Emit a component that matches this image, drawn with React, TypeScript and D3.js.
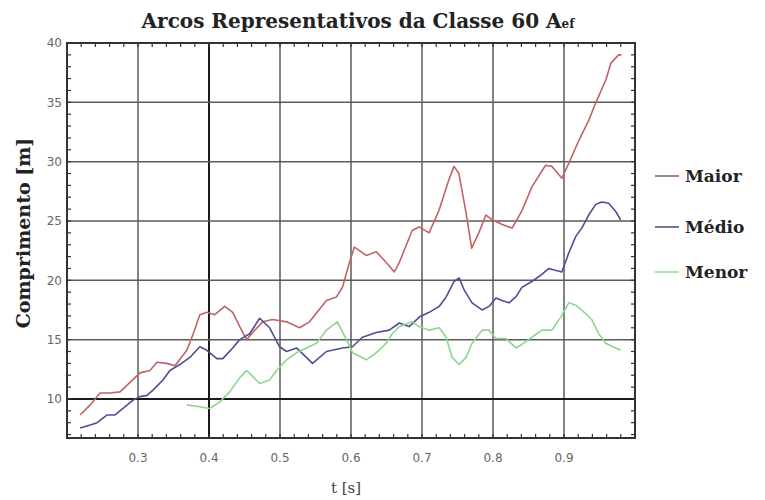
import React from "react";
import * as d3 from "d3";

const maiorT = [0.2185,0.2326,0.2466,0.2607,0.2747,0.2888,0.3028,0.3169,0.3267,0.3407,0.3520,0.3688,0.3772,0.3871,0.3969,0.4081,0.4222,0.4334,0.4433,0.4531,0.4615,0.4756,0.4896,0.5093,0.5275,0.5416,0.5654,0.5795,0.5879,0.5978,0.6048,0.6216,0.6357,0.6497,0.6610,0.6680,0.6862,0.6960,0.7100,0.7240,0.7380,0.7450,0.7520,0.7620,0.7700,0.7800,0.7900,0.7990,0.8130,0.8270,0.8410,0.8550,0.8740,0.8830,0.8970,0.9070,0.9210,0.9350,0.9450,0.9590,0.9660,0.9770,0.9810];
const maiorV = [8.65,9.5,10.5,10.5,10.6,11.4,12.2,12.4,13.1,13.0,12.8,14.1,15.4,17.1,17.3,17.1,17.8,17.3,16.1,15.0,15.6,16.5,16.7,16.5,16.0,16.5,18.3,18.6,19.4,21.5,22.8,22.1,22.4,21.5,20.7,21.5,24.2,24.5,24.0,25.9,28.5,29.6,29.0,25.7,22.7,24.0,25.5,25.1,24.7,24.4,25.9,27.9,29.7,29.6,28.6,29.9,31.8,33.5,35.0,36.9,38.3,39.0,39.0];

const medioT = [0.2185,0.2326,0.2424,0.2565,0.2677,0.2789,0.2930,0.3028,0.3126,0.3211,0.3351,0.3449,0.3590,0.3730,0.3871,0.3969,0.4110,0.4194,0.4334,0.4433,0.4573,0.4713,0.4854,0.4994,0.5093,0.5233,0.5458,0.5654,0.5879,0.6020,0.6160,0.6357,0.6539,0.6680,0.6820,0.6961,0.7101,0.7242,0.7340,0.7452,0.7522,0.7593,0.7705,0.7846,0.7944,0.8042,0.8126,0.8225,0.8323,0.8407,0.8548,0.8688,0.8787,0.8969,0.9067,0.9166,0.9250,0.9348,0.9447,0.9531,0.9629,0.9728,0.9798];
const medioV = [7.55,7.8,8.0,8.65,8.65,9.2,9.9,10.2,10.3,10.75,11.6,12.4,12.9,13.5,14.4,14.1,13.4,13.4,14.3,15.0,15.5,16.8,16.0,14.4,14.0,14.3,13.0,14.0,14.3,14.4,15.2,15.6,15.8,16.4,16.1,16.9,17.3,17.8,18.6,19.9,20.2,19.2,18.1,17.5,17.8,18.5,18.3,18.1,18.6,19.4,19.9,20.5,21.0,20.7,22.3,23.7,24.4,25.5,26.4,26.6,26.5,25.8,25.1];

const menorT = [0.3688,0.3871,0.4011,0.4152,0.4292,0.4433,0.4531,0.4615,0.4713,0.4854,0.4952,0.5093,0.5233,0.5374,0.5514,0.5654,0.5809,0.5935,0.6020,0.6216,0.6357,0.6497,0.6581,0.6680,0.6862,0.6961,0.7101,0.7242,0.7340,0.7424,0.7522,0.7621,0.7705,0.7846,0.7944,0.8042,0.8183,0.8323,0.8407,0.8548,0.8688,0.8829,0.8955,0.9067,0.9166,0.9306,0.9390,0.9489,0.9587,0.9728,0.9798];
const menorV = [9.5,9.35,9.2,9.75,10.6,11.8,12.4,11.9,11.3,11.6,12.4,13.3,13.9,14.3,14.7,15.8,16.5,15.0,13.9,13.3,13.9,14.7,15.5,16.1,16.5,16.1,15.8,16.0,15.2,13.5,12.9,13.5,14.7,15.8,15.8,15.1,15.1,14.3,14.6,15.2,15.8,15.8,16.9,18.1,17.9,17.2,16.7,15.5,14.7,14.3,14.1];

const seriesNames = ["Maior", "Médio", "Menor"];
const xTicks = [0.3, 0.4, 0.5, 0.6, 0.7, 0.8, 0.9];
const yTicks = [10, 15, 20, 25, 30, 35, 40];

const colors = ["#bf6464", "#4e4e94", "#8fd48f"];
const swatchColors = ["#8a6a6a", "#55556e", "#9ed89e"];

export default function App() {
  const W = 765, H = 500;
  const L = 67, R = 635, T = 43, B = 438;
  const x = d3.scaleLinear().domain([0.2, 1.0]).range([L, R]);
  const y = d3.scaleLinear().domain([6.71, 40]).range([B, T]);
  const line = d3.line<[number, number]>().x(d => x(d[0])).y(d => y(d[1]));
  const series = [
    d3.zip(maiorT, maiorV) as [number, number][],
    d3.zip(medioT, medioV) as [number, number][],
    d3.zip(menorT, menorV) as [number, number][],
  ];
  const minorX = d3.range(0.2, 1.0001, 0.02).map(v => +v.toFixed(2));
  const minorY = d3.range(7, 40.001, 1);
  const serif = "'DejaVu Serif', serif";
  const sans = "'DejaVu Sans', sans-serif";
  return (
    <svg width={W} height={H} style={{ position: "absolute", left: 0, top: 0, background: "#fff" }}>
      <rect x={0} y={0} width={W} height={H} fill="#fff" />
      {/* grid */}
      {xTicks.map(t => (
        <line key={"gx" + t} x1={x(t)} x2={x(t)} y1={T} y2={B}
          stroke={t === 0.4 ? "#1a1a1a" : "#5a5a5a"} strokeWidth={t === 0.4 ? 2 : 1.5} />
      ))}
      {yTicks.map(t => (
        <line key={"gy" + t} x1={L} x2={R} y1={y(t)} y2={y(t)}
          stroke={t === 10 ? "#1a1a1a" : "#5a5a5a"} strokeWidth={t === 10 ? 2 : 1.5} />
      ))}
      {/* minor ticks */}
      {minorX.map(t => (
        <g key={"mx" + t}>
          <line x1={x(t)} x2={x(t)} y1={B} y2={B - 4} stroke="#333" strokeWidth={1.2} />
          <line x1={x(t)} x2={x(t)} y1={T} y2={T + 4} stroke="#333" strokeWidth={1.2} />
        </g>
      ))}
      {minorY.map(t => (
        <g key={"my" + t}>
          <line x1={L} x2={L + 4} y1={y(t)} y2={y(t)} stroke="#333" strokeWidth={1.2} />
          <line x1={R} x2={R - 4} y1={y(t)} y2={y(t)} stroke="#333" strokeWidth={1.2} />
        </g>
      ))}
      {/* series */}
      {series.map((s, i) => (
        <path key={"s" + i} d={line(s) || ""} fill="none" stroke={colors[i]} strokeWidth={1.6} strokeLinejoin="round" />
      ))}
      {/* frame */}
      <rect x={L} y={T} width={R - L} height={B - T} fill="none" stroke="#333" strokeWidth={2} />
      {/* tick labels */}
      {xTicks.map(t => (
        <text key={"xl" + t} x={x(t)} y={462} textAnchor="middle" fontFamily={sans} fontSize={12} fill="#666">{t.toFixed(1)}</text>
      ))}
      {yTicks.map(t => (
        <text key={"yl" + t} x={62} y={y(t)} dy="0.35em" textAnchor="end" fontFamily={sans} fontSize={12} fill="#666">{t}</text>
      ))}
      {/* title */}
      <text x={358} y={28} textAnchor="middle" fontFamily={serif} fontWeight="bold" fontSize={20} fill="#222">
        Arcos Representativos da Classe 60 A<tspan fontSize={12}>ef</tspan>
      </text>
      {/* axis labels */}
      <text x={346} y={493} textAnchor="middle" fontFamily={serif} fontSize={15} fill="#444">t [s]</text>
      <text transform="translate(30,233) rotate(-90)" textAnchor="middle" fontFamily={serif} fontWeight="bold" fontSize={19} fill="#222">Comprimento [m]</text>
      {/* legend */}
      {seriesNames.map((n, i) => {
        const ly = [176, 227, 272][i];
        return (
          <g key={"lg" + i}>
            <line x1={655} x2={679} y1={ly} y2={ly} stroke={swatchColors[i]} strokeWidth={1.6} />
            <text x={685} y={ly} dy="0.35em" fontFamily={serif} fontWeight="bold" fontSize={17} fill="#222">{n}</text>
          </g>
        );
      })}
    </svg>
  );
}
